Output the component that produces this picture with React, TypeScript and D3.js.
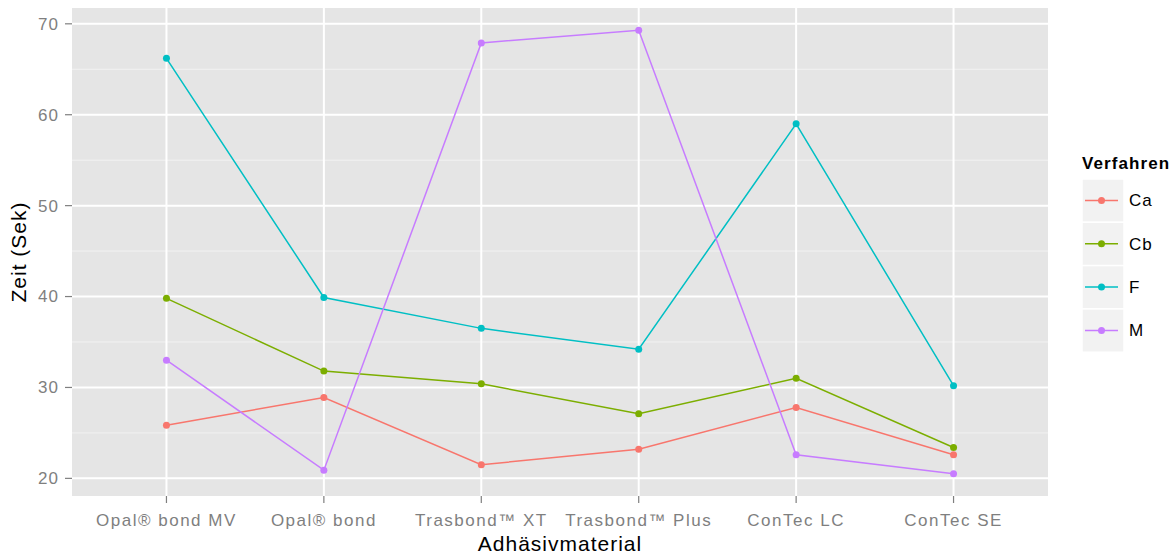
import React, { useEffect, useRef } from "react";
import * as d3 from "d3";

const materials = [
  "Opal® bond MV",
  "Opal® bond",
  "Trasbond™ XT",
  "Trasbond™ Plus",
  "ConTec LC",
  "ConTec SE",
];
const verfahren = ["Ca", "Cb", "F", "M"];
const colors = ["#F8766D", "#7CAE00", "#00BFC4", "#C77CFF"];

const ca = [25.85, 28.9, 21.5, 23.2, 27.8, 22.6];
const cb = [39.8, 31.8, 30.4, 27.1, 31.0, 23.4];
const f = [66.2, 39.9, 36.5, 34.2, 59.0, 30.2];
const m = [33.0, 20.9, 67.9, 69.3, 22.6, 20.5];
const seriesValues = [ca, cb, f, m];

const yTicks = [20, 30, 40, 50, 60, 70];
const yMinor = [25, 35, 45, 55, 65];

export default function App() {
  const divRef = useRef<HTMLDivElement>(null);

  useEffect(() => {
    if (!divRef.current) return;
    document.body.style.margin = "0";
    const W = 1176,
      H = 557;
    const panel = { left: 72, right: 1048, top: 8, bottom: 496 };

    const svg = d3
      .select(divRef.current)
      .append("svg")
      .attr("width", W)
      .attr("height", H)
      .style("display", "block")
      .style("font-family", "'Liberation Sans', Arial, sans-serif");

    // y: ggplot default 5% expansion
    const all = seriesValues.flat();
    const lo = d3.min(all)!,
      hi = d3.max(all)!;
    const pad = (hi - lo) * 0.05;
    const y = d3
      .scaleLinear()
      .domain([lo - pad, hi + pad])
      .range([panel.bottom, panel.top]);

    // x: discrete with 0.6 expansion
    const x = d3
      .scaleLinear()
      .domain([-0.6, materials.length - 1 + 0.6])
      .range([panel.left, panel.right]);

    svg
      .append("rect")
      .attr("x", panel.left)
      .attr("y", panel.top)
      .attr("width", panel.right - panel.left)
      .attr("height", panel.bottom - panel.top)
      .attr("fill", "#E5E5E5");

    // minor grid
    svg
      .selectAll("line.minor")
      .data(yMinor)
      .enter()
      .append("line")
      .attr("x1", panel.left)
      .attr("x2", panel.right)
      .attr("y1", (d) => y(d))
      .attr("y2", (d) => y(d))
      .attr("stroke", "#F2F2F2")
      .attr("stroke-width", 1);

    // major grid
    svg
      .selectAll("line.majy")
      .data(yTicks)
      .enter()
      .append("line")
      .attr("x1", panel.left)
      .attr("x2", panel.right)
      .attr("y1", (d) => y(d))
      .attr("y2", (d) => y(d))
      .attr("stroke", "white")
      .attr("stroke-width", 2);
    svg
      .selectAll("line.majx")
      .data(materials)
      .enter()
      .append("line")
      .attr("x1", (_, i) => x(i))
      .attr("x2", (_, i) => x(i))
      .attr("y1", panel.top)
      .attr("y2", panel.bottom)
      .attr("stroke", "white")
      .attr("stroke-width", 2);

    // y ticks + labels
    const yAx = svg.append("g");
    yTicks.forEach((t) => {
      yAx
        .append("line")
        .attr("x1", panel.left - 7)
        .attr("x2", panel.left)
        .attr("y1", y(t))
        .attr("y2", y(t))
        .attr("stroke", "#7F7F7F")
        .attr("stroke-width", 1.2);
      yAx
        .append("text")
        .attr("x", panel.left - 13)
        .attr("y", y(t))
        .attr("dy", "0.35em")
        .attr("text-anchor", "end")
        .attr("font-size", 17)
        .attr("letter-spacing", 1)
        .attr("fill", "#7F7F7F")
        .text(t);
    });

    // x ticks + labels
    const xAx = svg.append("g");
    materials.forEach((mat, i) => {
      xAx
        .append("line")
        .attr("x1", x(i))
        .attr("x2", x(i))
        .attr("y1", panel.bottom)
        .attr("y2", panel.bottom + 7)
        .attr("stroke", "#7F7F7F")
        .attr("stroke-width", 1.2);
      xAx
        .append("text")
        .attr("x", x(i))
        .attr("y", panel.bottom + 30)
        .attr("text-anchor", "middle")
        .attr("font-size", 17)
        .attr("letter-spacing", 1.5)
        .attr("fill", "#7F7F7F")
        .text(mat);
    });

    // axis titles
    svg
      .append("text")
      .attr("x", (panel.left + panel.right) / 2)
      .attr("y", 551)
      .attr("text-anchor", "middle")
      .attr("font-size", 21)
      .attr("letter-spacing", 1)
      .attr("fill", "black")
      .text("Adhäsivmaterial");
    svg
      .append("text")
      .attr("transform", `translate(26,${(panel.top + panel.bottom) / 2}) rotate(-90)`)
      .attr("text-anchor", "middle")
      .attr("font-size", 21)
      .attr("letter-spacing", 1)
      .attr("fill", "black")
      .text("Zeit (Sek)");

    // lines and points
    const line = d3
      .line<number>()
      .x((_, i) => x(i))
      .y((d) => y(d));
    seriesValues.forEach((vals, s) => {
      svg
        .append("path")
        .attr("d", line(vals))
        .attr("fill", "none")
        .attr("stroke", colors[s])
        .attr("stroke-width", 1.5);
    });
    seriesValues.forEach((vals, s) => {
      svg
        .selectAll(null)
        .data(vals)
        .enter()
        .append("circle")
        .attr("cx", (_, i) => x(i))
        .attr("cy", (d) => y(d))
        .attr("r", 3.5)
        .attr("fill", colors[s]);
    });

    // legend
    const lg = svg.append("g").attr("transform", "translate(1082,0)");
    lg.append("text")
      .attr("x", 0)
      .attr("y", 169)
      .attr("font-size", 17)
      .attr("letter-spacing", 1.1)
      .attr("font-weight", "bold")
      .attr("fill", "black")
      .text("Verfahren");
    verfahren.forEach((v, i) => {
      const top = 179 + i * 43.3;
      lg.append("rect")
        .attr("x", 0)
        .attr("y", top)
        .attr("width", 42)
        .attr("height", 43.3)
        .attr("fill", "#F2F2F2")
        .attr("stroke", "white")
        .attr("stroke-width", 1.5);
      lg.append("line")
        .attr("x1", 3)
        .attr("x2", 36)
        .attr("y1", top + 21.5)
        .attr("y2", top + 21.5)
        .attr("stroke", colors[i])
        .attr("stroke-width", 1.5);
      lg.append("circle")
        .attr("cx", 19.5)
        .attr("cy", top + 21.5)
        .attr("r", 3.5)
        .attr("fill", colors[i]);
      lg.append("text")
        .attr("x", 47)
        .attr("y", top + 21.5)
        .attr("dy", "0.35em")
        .attr("font-size", 17)
        .attr("letter-spacing", 1)
        .attr("fill", "black")
        .text(v);
    });

    return () => {
      if (!divRef.current) return;
      // eslint-disable-next-line react-hooks/exhaustive-deps
      divRef.current.innerHTML = "";
    };
  }, []);

  return <div ref={divRef}></div>;
}
